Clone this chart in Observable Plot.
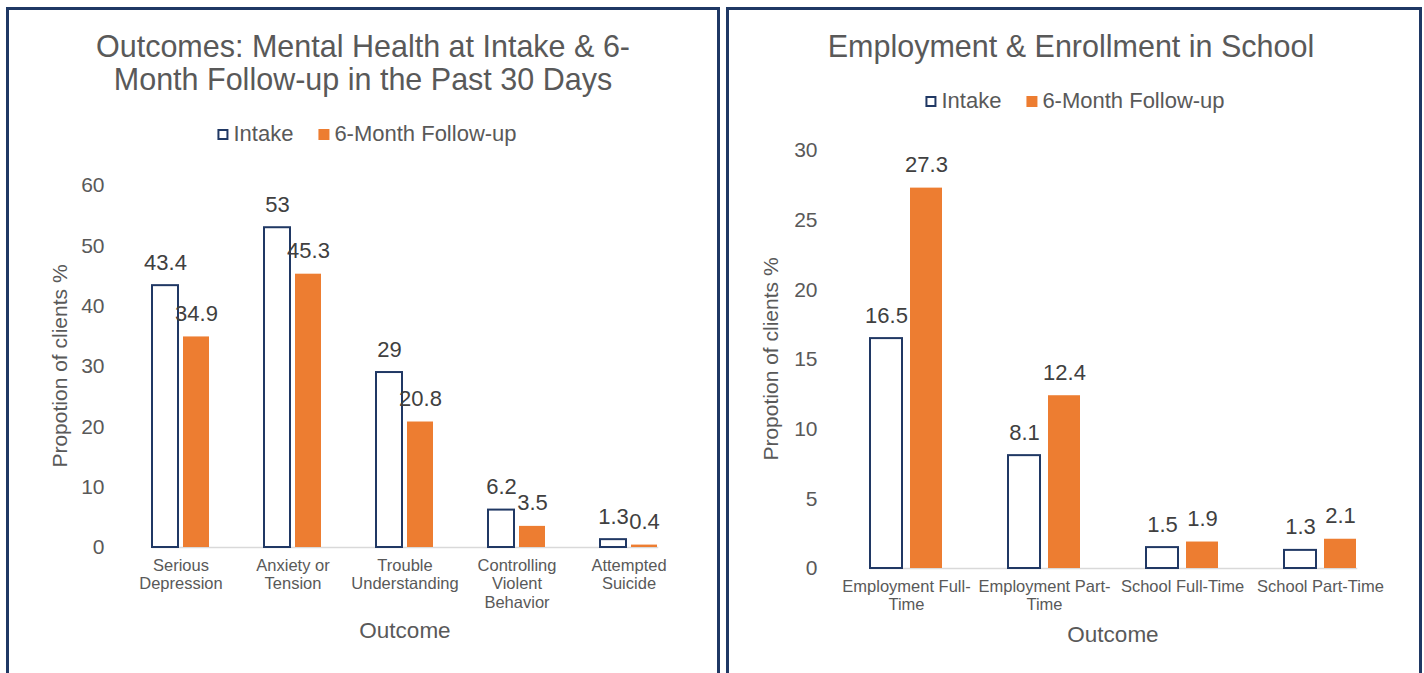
<!DOCTYPE html>
<html>
<head>
<meta charset="utf-8">
<script src="https://cdn.jsdelivr.net/npm/d3@7"></script>
<script src="https://cdn.jsdelivr.net/npm/@observablehq/plot@0.6"></script>
<style>
  html, body { margin: 0; padding: 0; background: #fff; }
  body { font-family: "Liberation Sans", Arial, sans-serif; }
  #page { position: relative; width: 1424px; height: 673px; overflow: hidden; background: #fff; }
  .panel { position: absolute; top: 7px; height: 720px; border: 3px solid #1F3864; box-sizing: border-box; }
  .t { position: absolute; color: #595959; white-space: nowrap; transform: translate(-50%, -50%); }
  .title { font-size: 30.5px; line-height: 33px; text-align: center; }
  .axtitle { font-size: 22.5px; }
  .ylab { font-size: 21px; transform: translate(-50%, -50%) rotate(-90deg); }
  .legend { display: flex; align-items: center; font-size: 22px; color: #595959; }
  .sw { display: inline-block; width: 11px; height: 11px; box-sizing: border-box; margin-right: 5px; }
  .sw.intake { border: 2px solid #203864; background: #fff; }
  .sw.follow { background: #ED7D31; }
  .gap { display: inline-block; width: 25px; }
  .chart { position: absolute; }
</style>
</head>
<body>
<div id="page">
  <div class="panel" style="left:6px;width:714px;"></div>
  <div class="panel" style="left:726px;width:696px;"></div>

  <div class="t title" style="left:363px;top:63px;">Outcomes: Mental Health at Intake &amp; 6-<br>Month Follow-up in the Past 30 Days</div>
  <div class="t legend" style="left:367px;top:134px;"><span class="sw intake"></span>Intake<span class="gap"></span><span class="sw follow"></span>6-Month Follow-up</div>
  <div class="t ylab" style="left:60px;top:366px;">Propotion of clients %</div>
  <div class="t axtitle" style="left:405px;top:631px;">Outcome</div>

  <div class="t title" style="left:1071px;top:46px;">Employment &amp; Enrollment in School</div>
  <div class="t legend" style="left:1075px;top:101px;"><span class="sw intake"></span>Intake<span class="gap"></span><span class="sw follow"></span>6-Month Follow-up</div>
  <div class="t ylab" style="left:771px;top:359px;">Propotion of clients %</div>
  <div class="t axtitle" style="left:1113px;top:635px;">Outcome</div>

  <div id="c1" class="chart" style="left:0px;top:160px;"></div>
  <div id="c2" class="chart" style="left:724px;top:130px;"></div>
</div>
<script>
// ---- Data ----
const seriesNames = ["Intake", "6-Month Follow-up"];

const mhCategories = ["Serious Depression", "Anxiety or Tension", "Trouble Understanding", "Controlling Violent Behavior", "Attempted Suicide"];
const mhLabels = ["Serious\nDepression", "Anxiety or\nTension", "Trouble\nUnderstanding", "Controlling\nViolent\nBehavior", "Attempted\nSuicide"];
const mhIntake = [43.4, 53, 29, 6.2, 1.3];
const mhFollow = [34.9, 45.3, 20.8, 3.5, 0.4];
const mhTicks = [0, 10, 20, 30, 40, 50, 60];

const empCategories = ["Employment Full-Time", "Employment Part-Time", "School Full-Time", "School Part-Time"];
const empLabels = ["Employment Full-\nTime", "Employment Part-\nTime", "School Full-Time", "School Part-Time"];
const empIntake = [16.5, 8.1, 1.5, 1.3];
const empFollow = [27.3, 12.4, 1.9, 2.1];
const empTicks = [0, 5, 10, 15, 20, 25, 30];

// ---- Chart builder ----
function buildChart(cats, labels, intake, follow, ticks, cfg) {
  const rows = [];
  cats.forEach((c, i) => {
    rows.push({cat: c, series: seriesNames[0], value: intake[i]});
    rows.push({cat: c, series: seriesNames[1], value: follow[i]});
  });
  const labelOf = new Map(cats.map((c, i) => [c, labels[i]]));
  return Plot.plot({
    width: cfg.width,
    height: cfg.height,
    marginLeft: cfg.marginLeft,
    marginRight: cfg.marginRight,
    marginTop: cfg.marginTop,
    marginBottom: cfg.marginBottom,
    style: {fontFamily: '"Liberation Sans", Arial, sans-serif', color: "#595959", background: "transparent", overflow: "visible"},
    fx: {domain: cats, paddingInner: cfg.fxPadIn, paddingOuter: cfg.fxPadIn / 2, label: null},
    x: {domain: seriesNames, paddingInner: cfg.xPadIn, paddingOuter: 0, axis: null},
    y: {domain: [ticks[0], ticks[ticks.length - 1]], label: null},
    marks: [
      Plot.frame({anchor: "bottom", stroke: "#D9D9D9", strokeWidth: 1.5, facet: "super"}),
      Plot.axisY({ticks: ticks, tickSize: 0, tickPadding: cfg.yTickPad, fontSize: 21, label: null}),
      Plot.axisFx({anchor: "bottom", tickSize: 0, tickPadding: cfg.catPad, fontSize: cfg.catFont, lineHeight: 1.12, label: null, tickFormat: d => labelOf.get(d)}),
      Plot.barY(rows.filter(d => d.series === seriesNames[0]), {fx: "cat", x: "series", y: "value", fill: "#ffffff", stroke: "#203864", strokeWidth: 2}),
      Plot.barY(rows.filter(d => d.series === seriesNames[1]), {fx: "cat", x: "series", y: "value", fill: "#ED7D31"}),
      Plot.text(rows, {fx: "cat", x: "series", y: "value", text: d => String(d.value), dy: -23, fontSize: 22, fill: "#404040"})
    ]
  });
}

document.getElementById("c1").appendChild(buildChart(mhCategories, mhLabels, mhIntake, mhFollow, mhTicks, {
  width: 720, height: 500, marginLeft: 124, marginRight: 35, marginTop: 25, marginBottom: 113,
  fxPadIn: 0.4875, xPadIn: 0.175, yTickPad: 48, catFont: 16.5, catPad: 10
}));

document.getElementById("c2").appendChild(buildChart(empCategories, empLabels, empIntake, empFollow, empTicks, {
  width: 700, height: 530, marginLeft: 111, marginRight: 34, marginTop: 20, marginBottom: 92,
  fxPadIn: 0.481, xPadIn: 0.2, yTickPad: 53, catFont: 16.5, catPad: 10
}));
</script>
</body>
</html>
